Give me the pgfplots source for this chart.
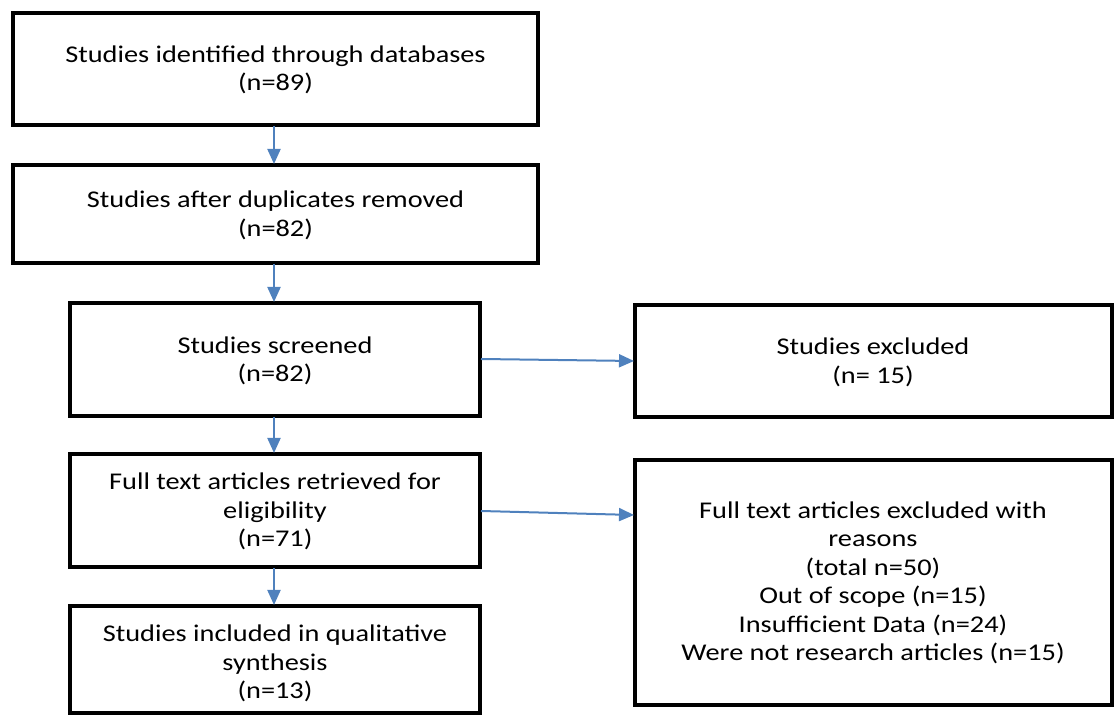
\documentclass[border=0pt]{standalone}
\usepackage{pgfplots}
\pgfplotsset{compat=1.18}
\usepackage{fontspec}
\setmainfont{Carlito}[FakeStretch=1.18]
\usetikzlibrary{arrows.meta}
\definecolor{arr}{RGB}{79,129,189}
\begin{document}
\begin{tikzpicture}
\begin{axis}[scale only axis, width=558pt, height=358pt,
  xmin=0, xmax=1116, ymin=0, ymax=716, y dir=reverse,
  hide axis, clip=false]
\coordinate (BL) at (rel axis cs:0,0);
\coordinate (TR) at (rel axis cs:1,1);
% boxes
\pgfplotsset{boxstyle/.style={black, line width=2.4pt, line join=miter, mark=none}}
\addplot[boxstyle] coordinates {(13,13) (538,13) (538,125) (13,125) (13,13) (538,13)};
\addplot[boxstyle] coordinates {(13,165) (538,165) (538,263) (13,263) (13,165) (538,165)};
\addplot[boxstyle] coordinates {(70,303) (480,303) (480,416) (70,416) (70,303) (480,303)};
\addplot[boxstyle] coordinates {(70,454) (480,454) (480,567) (70,567) (70,454) (480,454)};
\addplot[boxstyle] coordinates {(70,606) (480,606) (480,713) (70,713) (70,606) (480,606)};
\addplot[boxstyle] coordinates {(635,305) (1112,305) (1112,417) (635,417) (635,305) (1112,305)};
\addplot[boxstyle] coordinates {(635,460) (1112,460) (1112,705) (635,705) (635,460) (1112,460)};
% arrows
\pgfplotsset{arrstyle/.style={arr, line width=1pt, mark=none, -{Triangle[length=7.5pt, width=6.5pt]}}}
\addplot[arrstyle] coordinates {(274,126) (274,164)};
\addplot[arrstyle] coordinates {(274,264) (274,302)};
\addplot[arrstyle] coordinates {(274,417) (274,453)};
\addplot[arrstyle] coordinates {(274,568) (274,605)};
\addplot[arrstyle] coordinates {(481,359) (634,361)};
\addplot[arrstyle] coordinates {(481,511) (634,515)};
% texts
\tikzset{lbl/.style={font=\fontsize{12}{14.25}\selectfont, align=center, inner sep=0pt}}
\node[lbl] at (axis cs:275.5,70) {Studies identified through databases\\(n=89)};
\node[lbl] at (axis cs:275.5,215.5) {Studies after duplicates removed\\(n=82)};
\node[lbl] at (axis cs:275,361) {Studies screened\\(n=82)};
\node[lbl] at (axis cs:275,511.5) {Full text articles retrieved for\\eligibility\\(n=71)};
\node[lbl] at (axis cs:275,663.5) {Studies included in qualitative\\synthesis\\(n=13)};
\node[lbl] at (axis cs:873,362.5) {Studies excluded\\(n= 15)};
\node[lbl] at (axis cs:873,583) {Full text articles excluded with\\reasons\\(total n=50)\\Out of scope (n=15)\\Insufficient Data (n=24)\\Were not research articles (n=15)};
\end{axis}
\pgfresetboundingbox
\useasboundingbox (BL) rectangle (TR);
\end{tikzpicture}
\end{document}
